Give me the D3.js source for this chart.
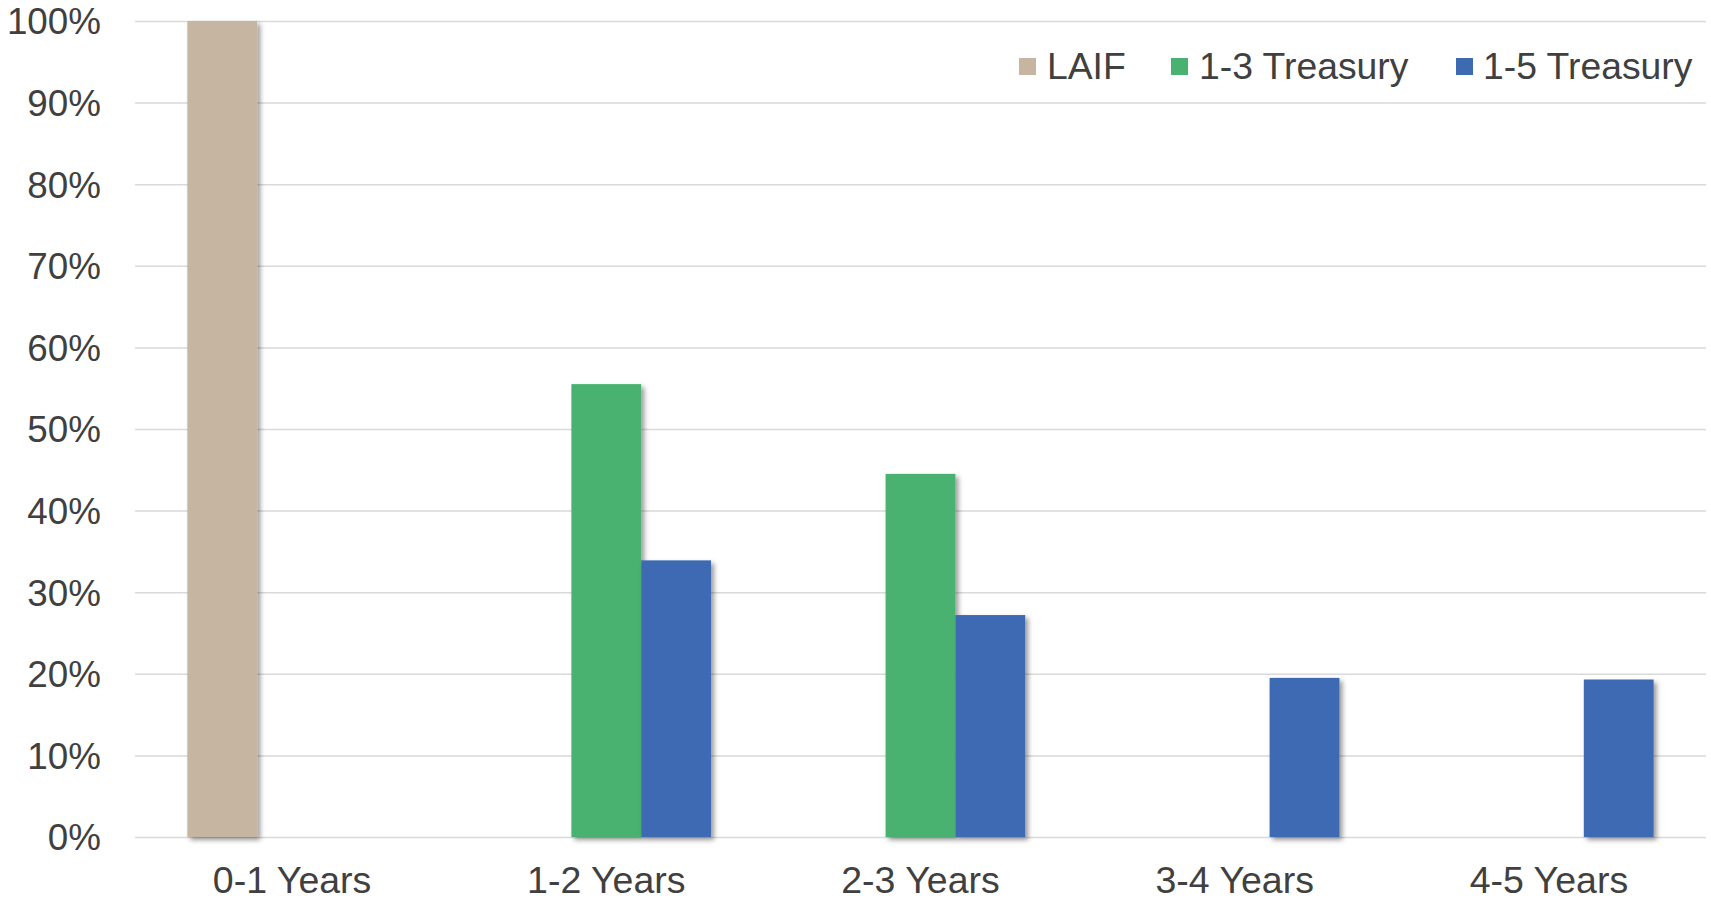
<!DOCTYPE html>
<html>
<head>
<meta charset="utf-8">
<script src="https://cdn.jsdelivr.net/npm/d3@7"></script>
<style>
  html, body { margin: 0; padding: 0; background: #fff; }
  svg { display: block; }
  text { font-family: "Liberation Sans", Arial, sans-serif; fill: #404040; }
</style>
</head>
<body>
<svg id="chart" width="1711" height="900"></svg>
<script>
// Maturity buckets and portfolio distribution per benchmark (percent)
const categories = ["0-1 Years", "1-2 Years", "2-3 Years", "3-4 Years", "4-5 Years"];
const seriesNames = ["LAIF", "1-3 Treasury", "1-5 Treasury"];
const laif        = [100, 0, 0, 0, 0];
const treasury13  = [0, 55.5, 44.5, 0, 0];
const treasury15  = [0, 33.9, 27.2, 19.5, 19.3];
const seriesColors = ["#c5b5a1", "#4ab270", "#3e6ab2"];
const yTicks = [0, 10, 20, 30, 40, 50, 60, 70, 80, 90, 100];

const seriesValues = [laif, treasury13, treasury15];
const table = categories.map((c, i) => ({
  category: c,
  values: seriesNames.map((s, j) => ({ series: s, value: seriesValues[j][i], color: seriesColors[j] }))
}));

const svg = d3.select("#chart");
const margin = { left: 135, right: 5, top: 21, bottom: 63 };
const width = 1711, height = 900;

const x0 = d3.scaleBand()
  .domain(categories)
  .range([margin.left, width - margin.right])
  .padding(0);

// 150% gap between clusters: 3 bars + 1.5 bar widths of gap per category
const barW = x0.bandwidth() / 4.5;
const x1 = d3.scaleBand()
  .domain(seriesNames)
  .range([x0.bandwidth() / 2 - 1.5 * barW, x0.bandwidth() / 2 + 1.5 * barW])
  .padding(0);

const y = d3.scaleLinear()
  .domain([0, 100])
  .range([height - margin.bottom, margin.top]);

// Soft drop shadow used on the bars
const defs = svg.append("defs");
const f = defs.append("filter").attr("id", "shadow")
  .attr("x", "-20%").attr("y", "-5%").attr("width", "150%").attr("height", "120%");
f.append("feDropShadow")
  .attr("dx", 3).attr("dy", 3).attr("stdDeviation", 2.5)
  .attr("flood-color", "#000").attr("flood-opacity", 0.4);

// Horizontal gridlines + y labels
const yAxis = d3.axisLeft(y)
  .tickValues(yTicks)
  .tickSize(-(width - margin.left - margin.right))
  .tickPadding(34)
  .tickFormat(d => d + "%");

const gy = svg.append("g")
  .attr("transform", `translate(${margin.left},0)`)
  .call(yAxis);
gy.select(".domain").remove();
gy.selectAll(".tick line").attr("stroke", "#d9d9d9").attr("stroke-width", 1.5);
gy.selectAll(".tick text")
  .style("font-size", "36.8px")
  .attr("fill", "#404040")
  .attr("dy", "0.35em");

// Clustered bars
const groups = svg.append("g").selectAll("g")
  .data(table)
  .join("g")
  .attr("transform", d => `translate(${x0(d.category)},0)`);

groups.selectAll("rect")
  .data(d => d.values.filter(v => v.value > 0))
  .join("rect")
  .attr("x", d => x1(d.series))
  .attr("width", x1.bandwidth())
  .attr("y", d => y(d.value))
  .attr("height", d => y(0) - y(d.value))
  .attr("fill", d => d.color)
  .attr("filter", "url(#shadow)");

// Category labels
const xAxis = d3.axisBottom(x0).tickSize(0).tickPadding(29);
const gx = svg.append("g")
  .attr("transform", `translate(0,${y(0)})`)
  .call(xAxis);
gx.select(".domain").remove();
gx.selectAll(".tick text")
  .style("font-size", "37.5px")
  .attr("fill", "#404040");

// Legend
const legendItems = [
  { name: seriesNames[0], color: seriesColors[0], sx: 1019, tx: 1047 },
  { name: seriesNames[1], color: seriesColors[1], sx: 1171, tx: 1199 },
  { name: seriesNames[2], color: seriesColors[2], sx: 1456, tx: 1483 }
];
const legend = svg.append("g");
const li = legend.selectAll("g").data(legendItems).join("g");
li.append("rect")
  .attr("x", d => d.sx).attr("y", 58)
  .attr("width", 17).attr("height", 17)
  .attr("fill", d => d.color);
li.append("text")
  .attr("x", d => d.tx).attr("y", 65.5)
  .attr("dy", "0.35em")
  .style("font-size", "37.3px")
  .text(d => d.name);
</script>
</body>
</html>
